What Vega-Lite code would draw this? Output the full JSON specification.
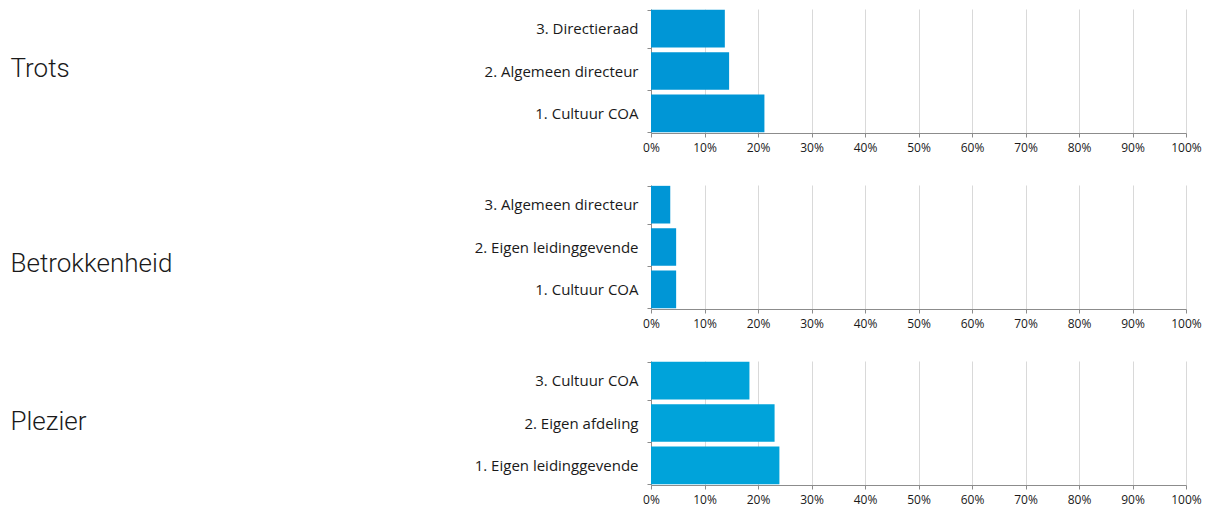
{
  "$schema": "https://vega.github.io/schema/vega-lite/v6.json",
  "background": "white",
  "padding": {"left": 10, "top": 2, "right": 5, "bottom": 16},
  "bounds": "flush",
  "spacing": 52,
  "config": {
    "view": {"stroke": null},
    "axisX": {
      "grid": true, "gridColor": "#D9D9D9", "gridWidth": 1,
      "domainColor": "#8C8C8C", "tickColor": "#8C8C8C", "tickSize": 4,
      "labelFont": "Open Sans", "labelFontSize": 12, "labelColor": "#1A1A1A", "labelPadding": 5, "labelFlush": false
    },
    "axisY": {
      "grid": false, "domainColor": "#8C8C8C", "tickColor": "#8C8C8C", "tickSize": 4,
      "tickBand": "extent",
      "labelFont": "Open Sans", "labelFontSize": 15, "labelColor": "#1A1A1A", "labelPadding": 9, "labelLimit": 300,
      "titleAngle": 0, "titleAlign": "left", "titleBaseline": "alphabetic", "titleX": -641,
      "titleFont": "Roboto", "titleFontSize": 26, "titleFontWeight": 300, "titleColor": "#1A1A1A"
    }
  },
  "datasets": {
    "d": [
      {"groep": "Trots", "item": "3. Directieraad", "waarde": 0.138},
      {"groep": "Trots", "item": "2. Algemeen directeur", "waarde": 0.146},
      {"groep": "Trots", "item": "1. Cultuur COA", "waarde": 0.212},
      {"groep": "Betrokkenheid", "item": "3. Algemeen directeur", "waarde": 0.036},
      {"groep": "Betrokkenheid", "item": "2. Eigen leidinggevende", "waarde": 0.047},
      {"groep": "Betrokkenheid", "item": "1. Cultuur COA", "waarde": 0.047},
      {"groep": "Plezier", "item": "3. Cultuur COA", "waarde": 0.184},
      {"groep": "Plezier", "item": "2. Eigen afdeling", "waarde": 0.231},
      {"groep": "Plezier", "item": "1. Eigen leidinggevende", "waarde": 0.240}
    ]
  },
  "vconcat": [
    {
      "width": 535, "height": 124,
      "data": {"name": "d"},
      "transform": [{"filter": "datum.groep == 'Trots'"}],
      "mark": {"type": "bar", "color": "#0096D6"},
      "encoding": {
        "x": {"field": "waarde", "type": "quantitative", "scale": {"domain": [0, 1]},
              "axis": {"format": ".0%", "values": [0, 0.1, 0.2, 0.3, 0.4, 0.5, 0.6, 0.7, 0.8, 0.9, 1], "title": null}},
        "y": {"field": "item", "type": "nominal", "sort": "descending",
              "scale": {"paddingInner": 0.11, "paddingOuter": 0.02},
              "axis": {"title": "Trots", "titleY": 67.7}}
      }
    },
    {
      "width": 535, "height": 124,
      "data": {"name": "d"},
      "transform": [{"filter": "datum.groep == 'Betrokkenheid'"}],
      "mark": {"type": "bar", "color": "#0096D6"},
      "encoding": {
        "x": {"field": "waarde", "type": "quantitative", "scale": {"domain": [0, 1]},
              "axis": {"format": ".0%", "values": [0, 0.1, 0.2, 0.3, 0.4, 0.5, 0.6, 0.7, 0.8, 0.9, 1], "title": null}},
        "y": {"field": "item", "type": "nominal", "sort": "descending",
              "scale": {"paddingInner": 0.11, "paddingOuter": 0.02},
              "axis": {"title": "Betrokkenheid", "titleY": 86.4}}
      }
    },
    {
      "width": 535, "height": 124,
      "data": {"name": "d"},
      "transform": [{"filter": "datum.groep == 'Plezier'"}],
      "mark": {"type": "bar", "color": "#00A3DA"},
      "encoding": {
        "x": {"field": "waarde", "type": "quantitative", "scale": {"domain": [0, 1]},
              "axis": {"format": ".0%", "values": [0, 0.1, 0.2, 0.3, 0.4, 0.5, 0.6, 0.7, 0.8, 0.9, 1], "title": null}},
        "y": {"field": "item", "type": "nominal", "sort": "descending",
              "scale": {"paddingInner": 0.11, "paddingOuter": 0.02},
              "axis": {"title": "Plezier", "titleY": 68.3}}
      }
    }
  ]
}
